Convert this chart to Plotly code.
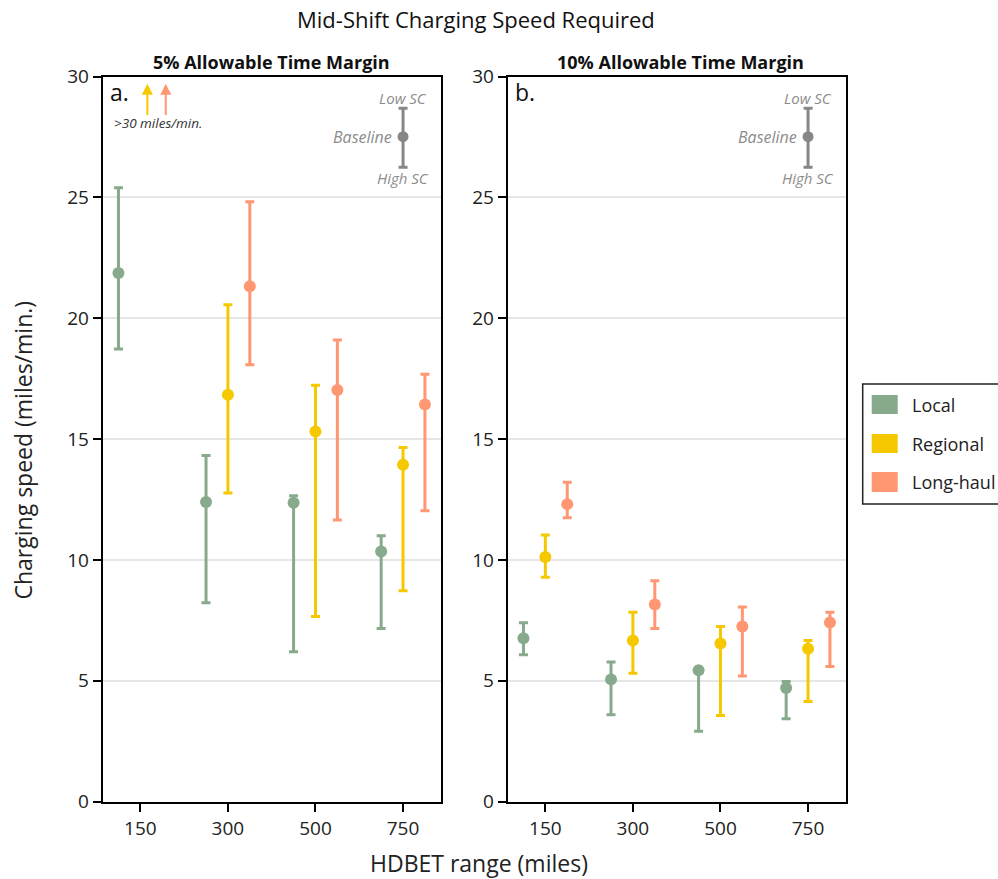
import plotly.graph_objects as go

# ---------------- data ----------------
ranges = ["150", "300", "500", "750"]
groups = ["Local", "Regional", "Long-haul"]
colors = {"Local": "#87AA8C", "Regional": "#F5C800", "Long-haul": "#FF9772"}

# 5% allowable time margin (panel a); None = off-scale (>30 miles/min.)
a_local = [21.87, 12.40, 12.37, 10.35]
a_local_hi = [25.40, 14.32, 12.66, 11.00]
a_local_lo = [18.73, 8.23, 6.20, 7.16]
a_regional = [None, 16.83, 15.31, 13.94]
a_regional_hi = [None, 20.56, 17.23, 14.65]
a_regional_lo = [None, 12.77, 7.66, 8.73]
a_longhaul = [None, 21.32, 17.03, 16.43]
a_longhaul_hi = [None, 24.82, 19.10, 17.68]
a_longhaul_lo = [None, 18.08, 11.65, 12.04]

# 10% allowable time margin (panel b)
b_local = [6.76, 5.06, 5.44, 4.70]
b_local_hi = [7.40, 5.78, 5.46, 4.97]
b_local_lo = [6.08, 3.60, 2.91, 3.43]
b_regional = [10.12, 6.67, 6.54, 6.33]
b_regional_hi = [11.03, 7.84, 7.25, 6.67]
b_regional_lo = [9.28, 5.31, 3.57, 4.14]
b_longhaul = [12.31, 8.16, 7.25, 7.41]
b_longhaul_hi = [13.22, 9.14, 8.05, 7.84]
b_longhaul_lo = [11.75, 7.16, 5.20, 5.59]

# key example (Baseline / Low SC / High SC)
key_base, key_low_sc, key_high_sc = 27.51, 28.69, 26.25

y_ticks = [0, 5, 10, 15, 20, 25, 30]

FONT = "'Open Sans', Lato, sans-serif"
offsets = {"Local": -0.25, "Regional": 0.0, "Long-haul": 0.25}

panels = {
    "a": {"Local": (a_local, a_local_hi, a_local_lo),
          "Regional": (a_regional, a_regional_hi, a_regional_lo),
          "Long-haul": (a_longhaul, a_longhaul_hi, a_longhaul_lo)},
    "b": {"Local": (b_local, b_local_hi, b_local_lo),
          "Regional": (b_regional, b_regional_hi, b_regional_lo),
          "Long-haul": (b_longhaul, b_longhaul_hi, b_longhaul_lo)},
}

W, H = 998, 879


def px(x):
    return x / W


def py(y):
    return 1 - y / H


fig = go.Figure()
for p, (xa, ya) in zip(["a", "b"], [("x", "y"), ("x2", "y2")]):
    for g in groups:
        vals, hi, lo = panels[p][g]
        xs, ys, up, dn = [], [], [], []
        for i, v in enumerate(vals):
            if v is None:
                continue
            xs.append(i + offsets[g])
            ys.append(v)
            up.append(hi[i] - v)
            dn.append(v - lo[i])
        fig.add_trace(go.Scatter(
            x=xs, y=ys, mode="markers", name=g, showlegend=False,
            xaxis=xa, yaxis=ya,
            marker=dict(color=colors[g], size=12),
            error_y=dict(type="data", symmetric=False, array=up, arrayminus=dn,
                         color=colors[g], thickness=3, width=4.5),
        ))
    # key
    fig.add_trace(go.Scatter(
        x=[3], y=[key_base], mode="markers", showlegend=False,
        xaxis=xa, yaxis=ya, marker=dict(color="#878787", size=11),
        error_y=dict(type="data", symmetric=False, array=[key_low_sc - key_base],
                     arrayminus=[key_base - key_high_sc], color="#878787",
                     thickness=3, width=4.5),
    ))

axis_common = dict(showline=True, linecolor="black", linewidth=2, mirror=True,
                   ticks="outside", ticklen=8, tickwidth=2, tickcolor="black",
                   automargin=False,
                   tickfont=dict(family=FONT, size=19, color="#222"))

xr = [-0.43, 3.43]
ydom = [py(801.7), py(76.5)]
fig.update_layout(
    template="none",
    width=W, height=H,
    margin=dict(l=0, r=0, t=0, b=0, pad=0, autoexpand=False),
    paper_bgcolor="white", plot_bgcolor="white",
    showlegend=False,
    font=dict(family=FONT, color="#222"),
    xaxis=dict(domain=[px(102.7), px(440.7)], range=xr, tickvals=[0, 1, 2, 3],
               ticktext=ranges, showgrid=False, zeroline=False, anchor="y", **axis_common),
    xaxis2=dict(domain=[px(507.7), px(845.7)], range=xr, tickvals=[0, 1, 2, 3],
                ticktext=ranges, showgrid=False, zeroline=False, anchor="y2", **axis_common),
    yaxis=dict(domain=ydom, range=[0, 30], tickvals=y_ticks,
               showgrid=True, gridcolor="#e6e6e6", gridwidth=1.5, zeroline=False,
               anchor="x", **axis_common),
    yaxis2=dict(domain=ydom, range=[0, 30], tickvals=y_ticks,
                showgrid=True, gridcolor="#e6e6e6", gridwidth=1.5, zeroline=False,
                anchor="x2", **axis_common),
)

ann = []
# titles
ann.append(dict(text="Mid-Shift Charging Speed Required", xref="paper", yref="paper",
                x=px(476), y=py(19), xanchor="center", yanchor="middle",
                showarrow=False, font=dict(size=22, color="#111", family=FONT)))
ann.append(dict(text="<b>5% Allowable Time Margin</b>", xref="paper", yref="paper",
                x=px(271.5), y=py(62), xanchor="center", yanchor="middle",
                showarrow=False, font=dict(size=18, color="#111", family=FONT)))
ann.append(dict(text="<b>10% Allowable Time Margin</b>", xref="paper", yref="paper",
                x=px(680), y=py(62), xanchor="center", yanchor="middle",
                showarrow=False, font=dict(size=18, color="#111", family=FONT)))
ann.append(dict(text="Charging speed (miles/min.)", xref="paper", yref="paper",
                x=px(22.5), y=py(450), textangle=-90, xanchor="center", yanchor="middle",
                showarrow=False, font=dict(size=23, color="#222", family=FONT)))
ann.append(dict(text="HDBET range (miles)", xref="paper", yref="paper",
                x=px(479), y=py(863), xanchor="center", yanchor="middle",
                showarrow=False, font=dict(size=23, color="#222", family=FONT)))

# panel labels and keys
for lbl, xr_, yr_ in [("a.", "x", "y"), ("b.", "x2", "y2")]:
    ann.append(dict(text=lbl, xref=xr_, yref=yr_, x=-0.37, y=29.35, xanchor="left",
                    yanchor="middle", showarrow=False,
                    font=dict(size=23, color="#111", family=FONT)))
    ann.append(dict(text="<i>Low SC</i>", xref=xr_, yref=yr_, x=3, y=29.1,
                    xanchor="center", yanchor="middle", showarrow=False,
                    font=dict(size=15, color="#8c8c8c", family=FONT)))
    ann.append(dict(text="<i>High SC</i>", xref=xr_, yref=yr_, x=3, y=25.8,
                    xanchor="center", yanchor="middle", showarrow=False,
                    font=dict(size=15, color="#8c8c8c", family=FONT)))
    ann.append(dict(text="<i>Baseline</i>", xref=xr_, yref=yr_, x=3, y=key_base,
                    xanchor="right", yanchor="middle", xshift=-9, showarrow=False,
                    font=dict(size=16, color="#8c8c8c", family=FONT)))

# off-scale arrows in panel a
for g, xpos in [("Regional", 0.08), ("Long-haul", 0.29)]:
    ann.append(dict(text="", xref="x", yref="y", x=xpos, y=29.7, ax=xpos, ay=28.35,
                    axref="x", ayref="y", showarrow=True, arrowhead=2, arrowsize=1.1,
                    arrowwidth=2, arrowcolor=colors[g]))
ann.append(dict(text="<i>&gt;30 miles/min.</i>", xref="x", yref="y", x=0.2, y=28.08,
                xanchor="center", yanchor="middle", showarrow=False,
                font=dict(size=13.5, color="#333", family=FONT)))

# legend (drawn manually)
shapes = [dict(type="rect", xref="paper", yref="paper", x0=px(862.7), x1=1.005,
               y0=py(504), y1=py(384), line=dict(color="#222", width=1.5),
               fillcolor="white", layer="below")]
for g, (ytop, ybot) in zip(groups, [(395, 414), (434, 453), (472, 492)]):
    shapes.append(dict(type="rect", xref="paper", yref="paper", x0=px(871.7),
                       x1=px(897.7), y0=py(ybot), y1=py(ytop),
                       line=dict(width=0), fillcolor=colors[g]))
    ann.append(dict(text=g, xref="paper", yref="paper", x=px(910),
                    y=py((ytop + ybot) / 2), xanchor="left", yanchor="middle",
                    showarrow=False, font=dict(size=18, color="#222", family=FONT)))

fig.update_layout(annotations=ann, shapes=shapes)
fig.write_html("out.html", config={"displayModeBar": False},
               post_script="document.body.style.margin='0';document.body.style.padding='0';")
